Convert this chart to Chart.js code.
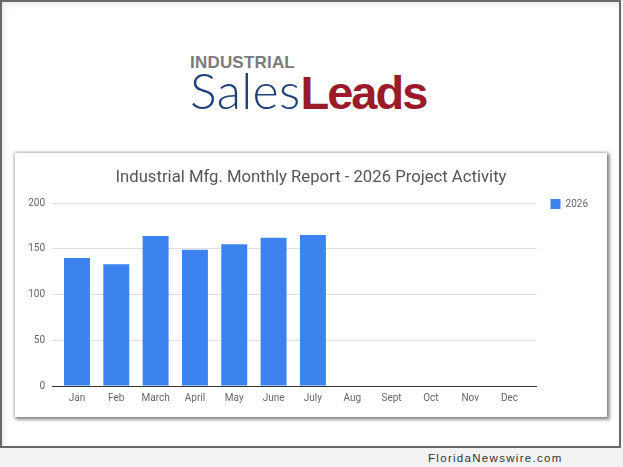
<!DOCTYPE html>
<html>
<head>
<meta charset="utf-8">
<script src="https://cdn.jsdelivr.net/npm/chart.js@4.4.1/dist/chart.umd.min.js"></script>
<style>
  html, body { margin: 0; padding: 0; }
  body { width: 623px; height: 467px; background: #f3f3f3; position: relative; overflow: hidden; font-family: "Liberation Sans", Arial, sans-serif; }
  .frame { position: absolute; left: 0; top: 0; width: 617px; height: 444px; border: 2px solid #686868; background: #fff; box-shadow: inset 3px 3px 6px rgba(0,0,0,0.08); }
  .logo { position: absolute; left: 190px; top: 53px; }
  .logo .top { font-weight: bold; font-size: 17px; color: #7b7b7b; letter-spacing: 0.2px; line-height: 20px; }
  .logo .main { font-size: 47px; line-height: 44px; margin-top: -5px; white-space: nowrap; }
  .logo .sales { color: #1f3f7c; font-family: "Lato", "Liberation Sans", sans-serif; font-weight: 300; font-size: 50px; letter-spacing: 0.3px; }
  .logo .leads { color: #9a1a2b; font-weight: bold; letter-spacing: -2px; }
  .panel { position: absolute; left: 15px; top: 153px; width: 592px; height: 264px; background: #fff;
           box-shadow: 0 0 3px 1px rgba(0,0,0,0.25), 2px 2px 3px 1px rgba(0,0,0,0.35); }
  .footer { position: absolute; left: 428px; top: 452px; font-size: 11.5px; letter-spacing: 1.3px; color: #333; }
</style>
</head>
<body>
<div class="frame"></div>
<div class="logo">
  <div class="top">INDUSTRIAL</div>
  <div class="main"><span class="sales">Sales</span><span class="leads">Leads</span></div>
</div>
<div class="panel"><canvas id="chart"></canvas></div>
<div class="footer">FloridaNewswire.com</div>

<script>
// Chart data
const months = ['Jan', 'Feb', 'March', 'April', 'May', 'June', 'July', 'Aug', 'Sept', 'Oct', 'Nov', 'Dec'];
const activity2026 = [140, 133, 164, 149, 155, 162, 165, null, null, null, null, null];
const seriesLabel = '2026';
const yMax = 200;
const yStep = 50;
const legendPad = 23;

// Nudge the legend so the swatch sits beside the top grid line
const legendNudge = {
    id: 'legendNudge',
    afterLayout(chart) {
        const lg = chart.legend;
        if (!lg) return;
        const dx = chart.chartArea.right + 14 - legendPad - lg.left;
        const dy = chart.chartArea.top - 4 - legendPad - lg.top;
        lg.left += dx; lg.right += dx;
        lg.top += dy; lg.bottom += dy;
    }
};

const points = activity2026.map((v, i) => ({ x: i, y: v }));

const ctx = document.getElementById('chart');
new Chart(ctx, {
    type: 'bar',
    data: {
        datasets: [{
            label: seriesLabel,
            data: points,
            backgroundColor: '#3c83ef',
            borderWidth: 0,
            barPercentage: 0.66,
            categoryPercentage: 1
        }]
    },
    options: {
        responsive: true,
        maintainAspectRatio: false,
        animation: false,
        layout: { padding: { left: 0, right: 0, top: 0, bottom: 7 } },
        plugins: {
            title: {
                display: true,
                text: 'Industrial Mfg. Monthly Report - 2026 Project Activity',
                color: '#555',
                font: { family: 'Roboto', size: 16.7, weight: 'normal' },
                padding: { top: 15, bottom: 15 }
            },
            legend: {
                position: 'right',
                align: 'start',
                fullSize: false,
                labels: {
                    boxWidth: 10,
                    boxHeight: 10,
                    padding: legendPad,
                    color: '#666',
                    font: { family: 'Roboto', size: 10 }
                }
            },
            tooltip: { enabled: false }
        },
        scales: {
            x: {
                type: 'linear',
                offset: false,
                min: -0.635,
                max: 11.686,
                grid: { display: false, drawTicks: false },
                border: { color: '#333', width: 1 },
                ticks: {
                    stepSize: 1,
                    autoSkip: false,
                    maxRotation: 0,
                    includeBounds: false,
                    padding: 6,
                    color: '#666',
                    font: { family: 'Roboto', size: 10 },
                    callback: v => Number.isInteger(v) && months[v] ? months[v] : ''
                }
            },
            y: {
                min: 0,
                max: yMax,
                grid: { color: '#dedede', drawTicks: false },
                border: { display: false },
                ticks: {
                    stepSize: yStep,
                    padding: 7,
                    color: '#666',
                    font: { family: 'Roboto', size: 10 }
                },
                afterFit: s => { s.width = 37; }
            }
        }
    },
    plugins: [legendNudge]
});
</script>
</body>
</html>
